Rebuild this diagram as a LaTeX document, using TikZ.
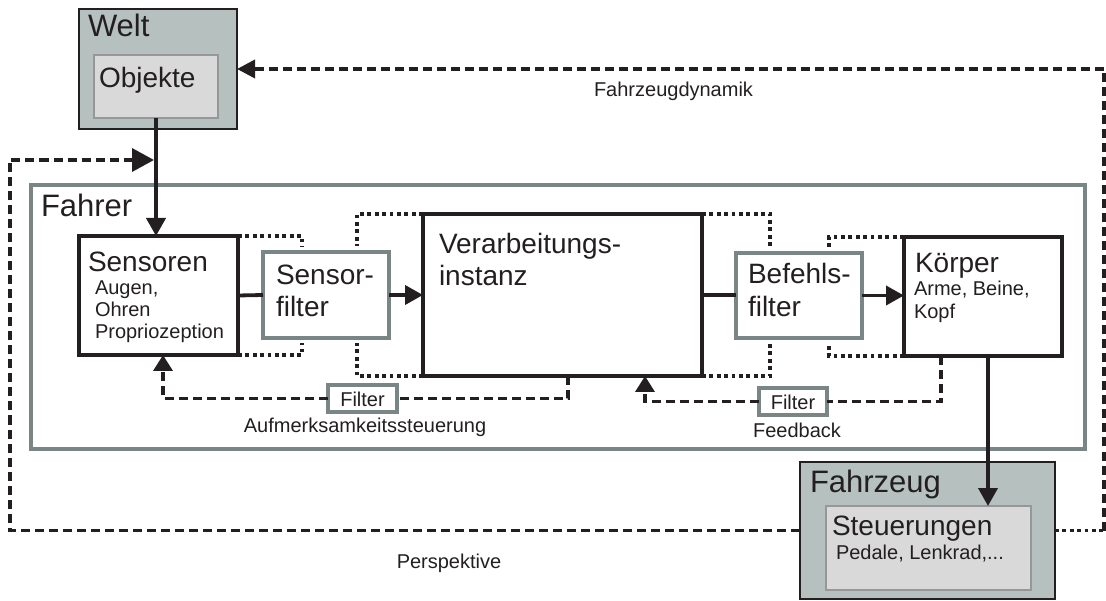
\documentclass[tikz,border=0pt]{standalone}
\usepackage{fontspec}
\setmainfont{Liberation Sans}
\usetikzlibrary{arrows.meta}
\definecolor{ink}{RGB}{35,31,32}
\definecolor{weltgray}{RGB}{181,192,191}
\definecolor{innergray}{RGB}{217,217,217}
\definecolor{framegray}{RGB}{122,134,134}
\definecolor{thingray}{RGB}{150,152,152}
\begin{document}
\begin{tikzpicture}[x=1pt,y=-1pt,
  every node/.style={inner sep=0pt, outer sep=0pt, text=ink},
  outerbox/.style={draw=ink, line width=1.8pt, fill=weltgray},
  innerbox/.style={draw=thingray, line width=1.2pt, fill=innergray},
  blackbox/.style={draw=ink, line width=3.8pt, fill=white},
  filterbox/.style={draw=framegray, line width=3.8pt, fill=white},
  fahrerbox/.style={draw=framegray, line width=3.4pt},
  solidline/.style={draw=ink, line width=3.8pt},
  arrowline/.style={solidline, -{Triangle[length=18pt,width=19pt]}},
  dashline/.style={draw=ink, line width=3.6pt, dash pattern=on 9pt off 5pt},
  dotline/.style={draw=ink, line width=3.8pt, dash pattern=on 3.8pt off 3.6pt},
  bigtxt/.style={anchor=base west, font=\fontsize{31}{33}\selectfont},
  midtxt/.style={anchor=base west, font=\fontsize{28}{30}\selectfont},
  smalltxt/.style={anchor=base west, font=\fontsize{20}{22}\selectfont},
  labeltxt/.style={anchor=base, font=\fontsize{20}{22}\selectfont}
]
\useasboundingbox (0,0) rectangle (1106,601);

% Fahrer frame
\node[fahrerbox, minimum width=1054pt, minimum height=264pt] (fahrer) at (558,317) {};
\node[bigtxt] (tfahrer) at (41,217) {Fahrer};

% Welt
\node[outerbox, minimum width=158pt, minimum height=120pt] (welt) at (158,69) {};
\node[innerbox, minimum width=124pt, minimum height=63pt] (objekte) at (156,86.5) {};
\node[bigtxt] (twelt) at (88,37) {Welt};
\node[midtxt] (tobjekte) at (99,88) {Objekte};

% Fahrzeug
\node[outerbox, minimum width=255pt, minimum height=137pt] (fahrzeug) at (927.5,530.5) {};
\node[innerbox, minimum width=205pt, minimum height=84pt] (steuer) at (928.5,548) {};
\node[bigtxt] (tfahrzeug) at (810,492) {Fahrzeug};
\node[midtxt] (tsteuer) at (832,535) {Steuerungen};
\node[smalltxt] (tpedale) at (836,559) {Pedale, Lenkrad,...};

% inner boxes
\node[blackbox, minimum width=159pt, minimum height=119pt] (sensoren) at (158.5,295.5) {};
\node[filterbox, minimum width=126pt, minimum height=86pt] (sfilter) at (326,295) {};
\node[blackbox, minimum width=279pt, minimum height=162pt] (verarb) at (562.5,295) {};
\node[filterbox, minimum width=126pt, minimum height=85pt] (bfilter) at (799,295.5) {};
\node[blackbox, minimum width=158pt, minimum height=119pt] (koerper) at (983,296.5) {};
\node[filterbox, minimum width=69pt, minimum height=27pt] (filtera) at (362.5,398.5) {};
\node[filterbox, minimum width=68pt, minimum height=27pt] (filterb) at (793,401.5) {};

% texts in boxes
\node[midtxt] (tsens) at (88,272) {Sensoren};
\node[smalltxt] (tsens1) at (95,295) {Augen,};
\node[smalltxt] (tsens2) at (95,317) {Ohren};
\node[smalltxt] (tsens3) at (95,339) {Propriozeption};
\node[midtxt] (tsf1) at (276,285) {Sensor-};
\node[midtxt] (tsf2) at (276,317) {filter};
\node[midtxt] (tv1) at (439,254) {Verarbeitungs-};
\node[midtxt] (tv2) at (439,286) {instanz};
\node[midtxt] (tbf1) at (748,284) {Befehls-};
\node[midtxt] (tbf2) at (748,317) {filter};
\node[midtxt] (tk) at (915,273) {Körper};
\node[smalltxt] (tk1) at (914,296) {Arme, Beine,};
\node[smalltxt] (tk2) at (914,319) {Kopf};
\node[labeltxt] (tfa) at (filtera.center) [anchor=center, yshift=-1pt] {Filter};
\node[labeltxt] (tfb) at (filterb.center) [anchor=center, yshift=-1pt] {Filter};

% labels
\node[labeltxt] (laufm) at (365,433) {Aufmerksamkeitssteuerung};
\node[labeltxt] (lfeed) at (797,438) {Feedback};
\node[labeltxt] (lpersp) at (449,568) {Perspektive};
\node[labeltxt] (ldyn) at (673.5,97) {Fahrzeugdynamik};

% main chain
\draw[arrowline] (objekte.south) -- (objekte.south |- sensoren.north);
\draw[solidline] (sensoren.east) -- (sfilter.west);
\draw[arrowline] (sfilter.east) -- (sfilter.east -| verarb.west);
\draw[solidline] (verarb.east) -- (verarb.east -| bfilter.west);
\draw[arrowline] (bfilter.east) -- (bfilter.east -| koerper.west);
\coordinate (kbot) at ([xshift=5pt]koerper.south);
\draw[arrowline] (kbot) -- (kbot |- steuer.north);

% dotted bypasses
\draw[dotline] (sensoren.north east) -- (302,236) -- (302,247);
\draw[dotline] (sensoren.south east) -- (302,355) -- (302,343);
\draw[dotline] (verarb.north west) -- (357,214) -- (357,246);
\draw[dotline] (verarb.south west) -- (357,376) -- (357,343);
\draw[dotline] (verarb.north east) -- (770,214) -- (770,248);
\draw[dotline] (verarb.south east) -- (770,376) -- (770,343);
\draw[dotline] (koerper.north west) -- (829,237) -- (829,248);
\draw[dotline] (koerper.south west) -- (829,356) -- (829,345);

% Aufmerksamkeitssteuerung
\coordinate (vbot) at ([xshift=5.5pt]verarb.south);
\coordinate (sbot) at ([xshift=4.5pt]sensoren.south);
\draw[dashline] (vbot) |- (filtera.east);
\draw[dashline, -{Triangle[length=16pt,width=19pt]}] (filtera.west) -| (sbot);

% Feedback
\coordinate (kfb) at ([xshift=-42pt]koerper.south);
\coordinate (vfb) at ([xshift=82.5pt]verarb.south);
\draw[dashline] (kfb) |- (filterb.east);
\draw[dashline, -{Triangle[length=16pt,width=19pt]}] (filterb.west) -| (vfb);

% Perspektive
\coordinate (pin) at (154,160);
\draw[dashline, -{Triangle[length=22pt,width=23pt]}] (fahrzeug.west) -- (10,530.5) -- (10,160) -- (pin);

% Fahrzeugdynamik
\coordinate (rc) at (1104,530.5);
\draw[dotline] (fahrzeug.east) -- (rc);
\draw[dashline, -{Triangle[length=18pt,width=18pt]}] (rc) -- (1104,69) -- (welt.east);
\end{tikzpicture}
\end{document}
